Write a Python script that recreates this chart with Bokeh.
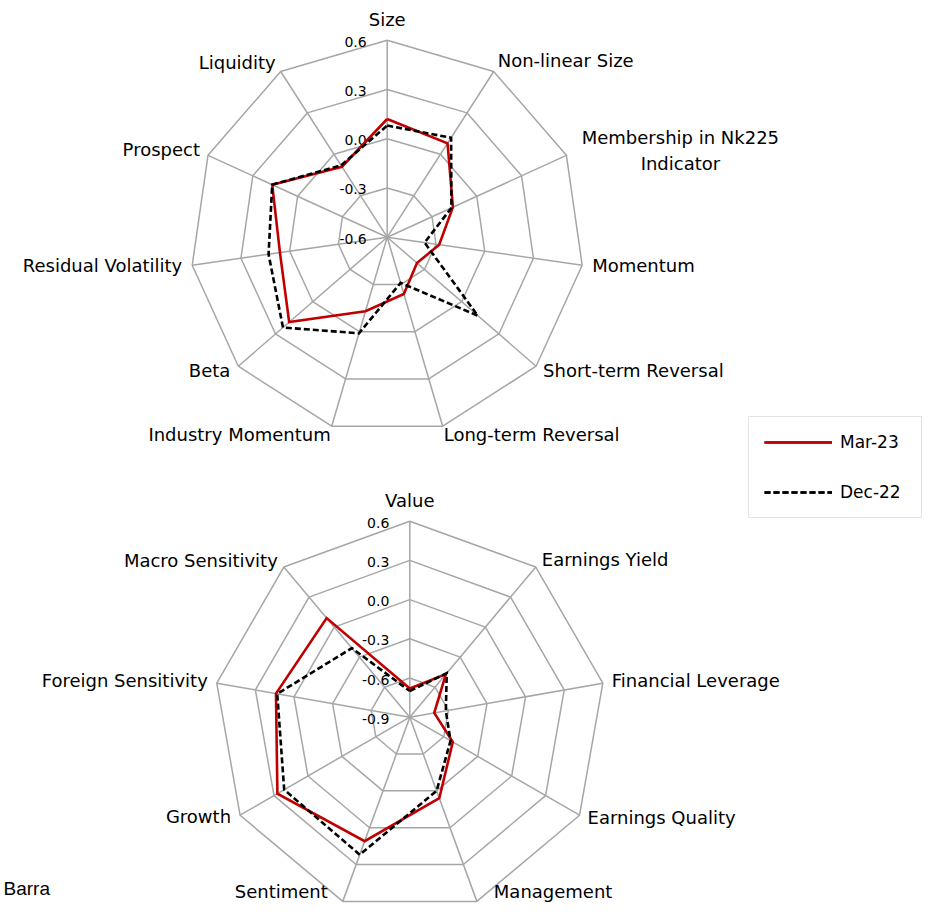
import numpy as np
from bokeh.plotting import figure
from bokeh.models import Range1d, Legend, LegendItem
from bokeh.core.properties import value
from bokeh.embed import file_html
from bokeh.resources import INLINE

# ---------------- data ----------------
top_categories = ["Size", "Non-linear Size", "Membership in Nk225\nIndicator", "Momentum",
                  "Short-term Reversal", "Long-term Reversal", "Industry Momentum", "Beta",
                  "Residual Volatility", "Prospect", "Liquidity"]
top_mar23 = [0.12, 0.08, -0.16, -0.28, -0.36, -0.24, -0.13, 0.19, 0.06, 0.17, -0.09]
top_dec22 = [0.08, 0.12, -0.17, -0.37, 0.13, -0.31, 0.01, 0.24, 0.13, 0.17, -0.08]
top_ticks = [-0.6, -0.3, 0.0, 0.3, 0.6]
top_tick_labels = ["-0.6", "-0.3", "0.0", "0.3", "0.6"]

bottom_categories = ["Value", "Earnings Yield", "Financial Leverage", "Earnings Quality",
                     "Management", "Sentiment", "Growth", "Foreign Sensitivity",
                     "Macro Sensitivity"]
bottom_mar23 = [-0.68, -0.47, -0.71, -0.52, -0.24, 0.11, 0.27, 0.14, 0.09]
bottom_dec22 = [-0.70, -0.46, -0.62, -0.54, -0.30, 0.22, 0.21, 0.13, -0.21]
bottom_ticks = [-0.9, -0.6, -0.3, 0.0, 0.3, 0.6]
bottom_tick_labels = ["-0.9", "-0.6", "-0.3", "0.0", "0.3", "0.6"]

series_names = ["Mar-23", "Dec-22"]
source_note = "Barra"

# ---------------- layout / style ----------------
GRID = "#A6A6A6"
RED = "#C00000"
LABEL_FONT = "DejaVu Sans"

top_label_layout = [(0, -21, "center"), (4, -11, "left"), (114, -5, "center"), (10, 0, "left"),
                    (7, 4, "left"), (1, 8, "left"), (-1, 8, "right"), (-8, 4, "right"),
                    (-10, 0, "right"), (-8, -6, "right"), (-5, -9, "right")]
bottom_label_layout = [(0, -21, "center"), (6, -8, "left"), (9, -3, "left"), (8, 2, "left"),
                       (17, -10, "left"), (-15, -10, "right"), (-9, 1, "right"), (-9, -3, "right"),
                       (-6, -7, "right")]

p = figure(width=922, height=903, x_range=Range1d(0, 922), y_range=Range1d(903, 0),
           x_axis_type=None, y_axis_type=None, toolbar_location=None,
           output_backend="svg", min_border=0)
p.grid.visible = False
p.outline_line_color = None
p.background_fill_color = "white"


def radar(cx, cy, R, cats, ticks, tick_labels, series, layout):
    n = len(cats)
    vmin, vmax = ticks[0], ticks[-1]
    ang = np.arange(n) * 2 * np.pi / n
    sx, sy = np.sin(ang), -np.cos(ang)

    def pos(v):
        r = (np.asarray(v, dtype=float) - vmin) / (vmax - vmin) * R
        return cx + r * sx, cy + r * sy

    xs, ys = [], []
    for t in ticks[1:]:
        x, y = pos(np.full(n, t))
        xs.append(list(np.append(x, x[0])))
        ys.append(list(np.append(y, y[0])))
    for i in range(n):
        xs.append([cx, cx + R * sx[i]])
        ys.append([cy, cy + R * sy[i]])
    p.multi_line(xs, ys, line_color=GRID, line_width=1.5)

    # tick labels along the top spoke
    ty = [cy - (t - vmin) / (vmax - vmin) * R + 1.5 for t in ticks]
    p.text(x=[cx - 20.5] * len(ticks), y=ty, text=tick_labels, text_align="right",
           text_baseline="middle", text_font=value(LABEL_FONT), text_font_size="14px",
           text_color="black")

    # category labels
    vx, vy = pos(np.full(n, vmax))
    for i, c in enumerate(cats):
        dx, dy, al = layout[i]
        lines = c.split("\n")
        m = len(lines)
        for k, ln in enumerate(lines):
            p.text(x=[vx[i] + dx], y=[vy[i] + dy + (k - (m - 1) / 2) * 26], text=[ln],
                   text_align=al, text_baseline="middle", text_font=value(LABEL_FONT),
                   text_font_size="18px", text_color="black")

    renderers = []
    for vals, color, dash in series:
        x, y = pos(vals)
        r = p.line(list(np.append(x, x[0])), list(np.append(y, y[0])), line_color=color,
                   line_width=2.6, line_dash=dash, line_join="miter")
        renderers.append(r)
    return renderers


top_r = radar(386.7, 236.7, 197, top_categories, top_ticks, top_tick_labels,
              [(top_mar23, RED, "solid"), (top_dec22, "black", "6 3")], top_label_layout)
bot_r = radar(409.3, 716.7, 196, bottom_categories, bottom_ticks, bottom_tick_labels,
              [(bottom_mar23, RED, "solid"), (bottom_dec22, "black", "6 3")], bottom_label_layout)

legend = Legend(items=[LegendItem(label=series_names[0], renderers=[top_r[0], bot_r[0]]),
                       LegendItem(label=series_names[1], renderers=[top_r[1], bot_r[1]])],
                location=(748, 385), orientation="vertical", padding=15, spacing=30,
                glyph_height=20, glyph_width=68, label_height=20, label_standoff=8,
                label_width=66, margin=0, border_line_color="#C8C8C8", border_line_width=1,
                background_fill_color="white", background_fill_alpha=1.0,
                label_text_font=LABEL_FONT, label_text_font_size="17px",
                label_text_color="black")
p.add_layout(legend)

p.text(x=[3], y=[888], text=[source_note], text_align="left", text_baseline="middle",
       text_font=value("Liberation Sans"), text_font_size="19px", text_color="black")

open("out.html", "w").write(file_html(p, INLINE))
